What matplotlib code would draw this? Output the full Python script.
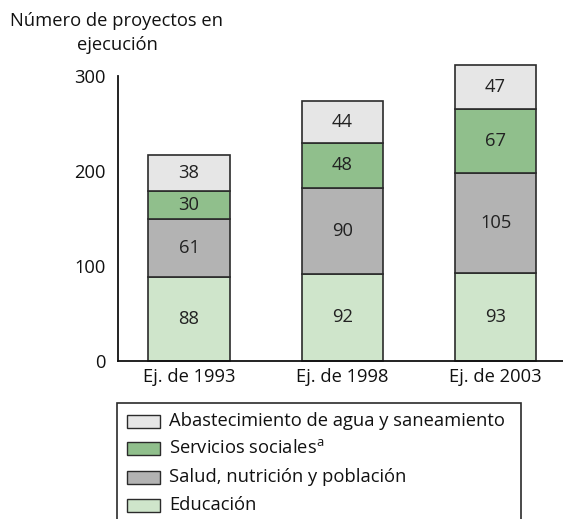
import matplotlib
matplotlib.use("Agg")
import matplotlib.pyplot as plt
from matplotlib.patches import Rectangle

plt.rcParams["font.family"] = ["Open Sans", "DejaVu Sans"]

categories = ["Ej. de 1993", "Ej. de 1998", "Ej. de 2003"]
educacion = [88, 92, 93]
salud = [61, 90, 105]
servicios = [30, 48, 67]
agua = [38, 44, 47]

series_names = [
    "Educación",
    "Salud, nutrición y población",
    "Servicios sociales$^{\\mathregular{a}}$",
    "Abastecimiento de agua y saneamiento",
]
series_values = [educacion, salud, servicios, agua]
colors = ["#cfe5cb", "#b3b3b3", "#90bf8c", "#e6e6e6"]
edge = "#2b2b2b"
fs = 13.2

W, H = 563, 519
fig = plt.figure(figsize=(W / 100, H / 100), dpi=100)

# axes placed in pixel terms: x0 at 118px, zero line at 361px
ymax = 315
px_per_unit = 0.95
ax_bottom = 361
ax_top = ax_bottom - ymax * px_per_unit
ax = fig.add_axes([118 / W, 1 - ax_bottom / H, 1 - 118 / W, (ax_bottom - ax_top) / H])

x = list(range(len(categories)))
bottoms = [0] * len(categories)
for vals, col in zip(series_values, colors):
    ax.bar(x, vals, width=0.53, bottom=bottoms, color=col,
           edgecolor=edge, linewidth=1.2, zorder=2, clip_on=False)
    for xi, b, v in zip(x, bottoms, vals):
        ax.text(xi, b + v / 2, str(v), ha="center", va="center",
                fontsize=fs, color="#222222")
    bottoms = [b + v for b, v in zip(bottoms, vals)]

ax.set_xlim(-0.464, 2.44)
ax.set_ylim(0, ymax)
ax.set_yticks([0, 100, 200, 300])
ax.set_xticks(x)
ax.set_xticklabels(categories)
ax.tick_params(length=0, labelsize=fs, colors="#111111")
ax.tick_params(axis="y", pad=9)
ax.tick_params(axis="x", pad=5)
for s in ["top", "right"]:
    ax.spines[s].set_visible(False)
ax.spines["left"].set_bounds(0, 300)
for s in ["left", "bottom"]:
    ax.spines[s].set_linewidth(1.3)
    ax.spines[s].set_color("#111111")

fig.text(117 / W, 1 - 33 / H, "Número de proyectos en\nejecución", ha="center",
         va="center", fontsize=fs, linespacing=1.45, color="#111111")

# legend drawn by hand, box runs off the bottom edge
fig.patches.append(Rectangle((117 / W, -0.02), (521 - 117) / W, (H - 403) / H + 0.02,
                             transform=fig.transFigure, fill=False,
                             edgecolor=edge, linewidth=1.2))
rows_y = [421, 448, 477, 505]
for name, col, yy in zip(series_names[::-1], colors[::-1], rows_y):
    fig.patches.append(Rectangle((127 / W, 1 - (yy + 6.5) / H), 33 / W, 13 / H,
                                 transform=fig.transFigure, facecolor=col,
                                 edgecolor=edge, linewidth=1.0))
    fig.text(169 / W, 1 - yy / H, name, ha="left", va="center",
             fontsize=fs, color="#111111")

fig.savefig("out.png", dpi=100)
